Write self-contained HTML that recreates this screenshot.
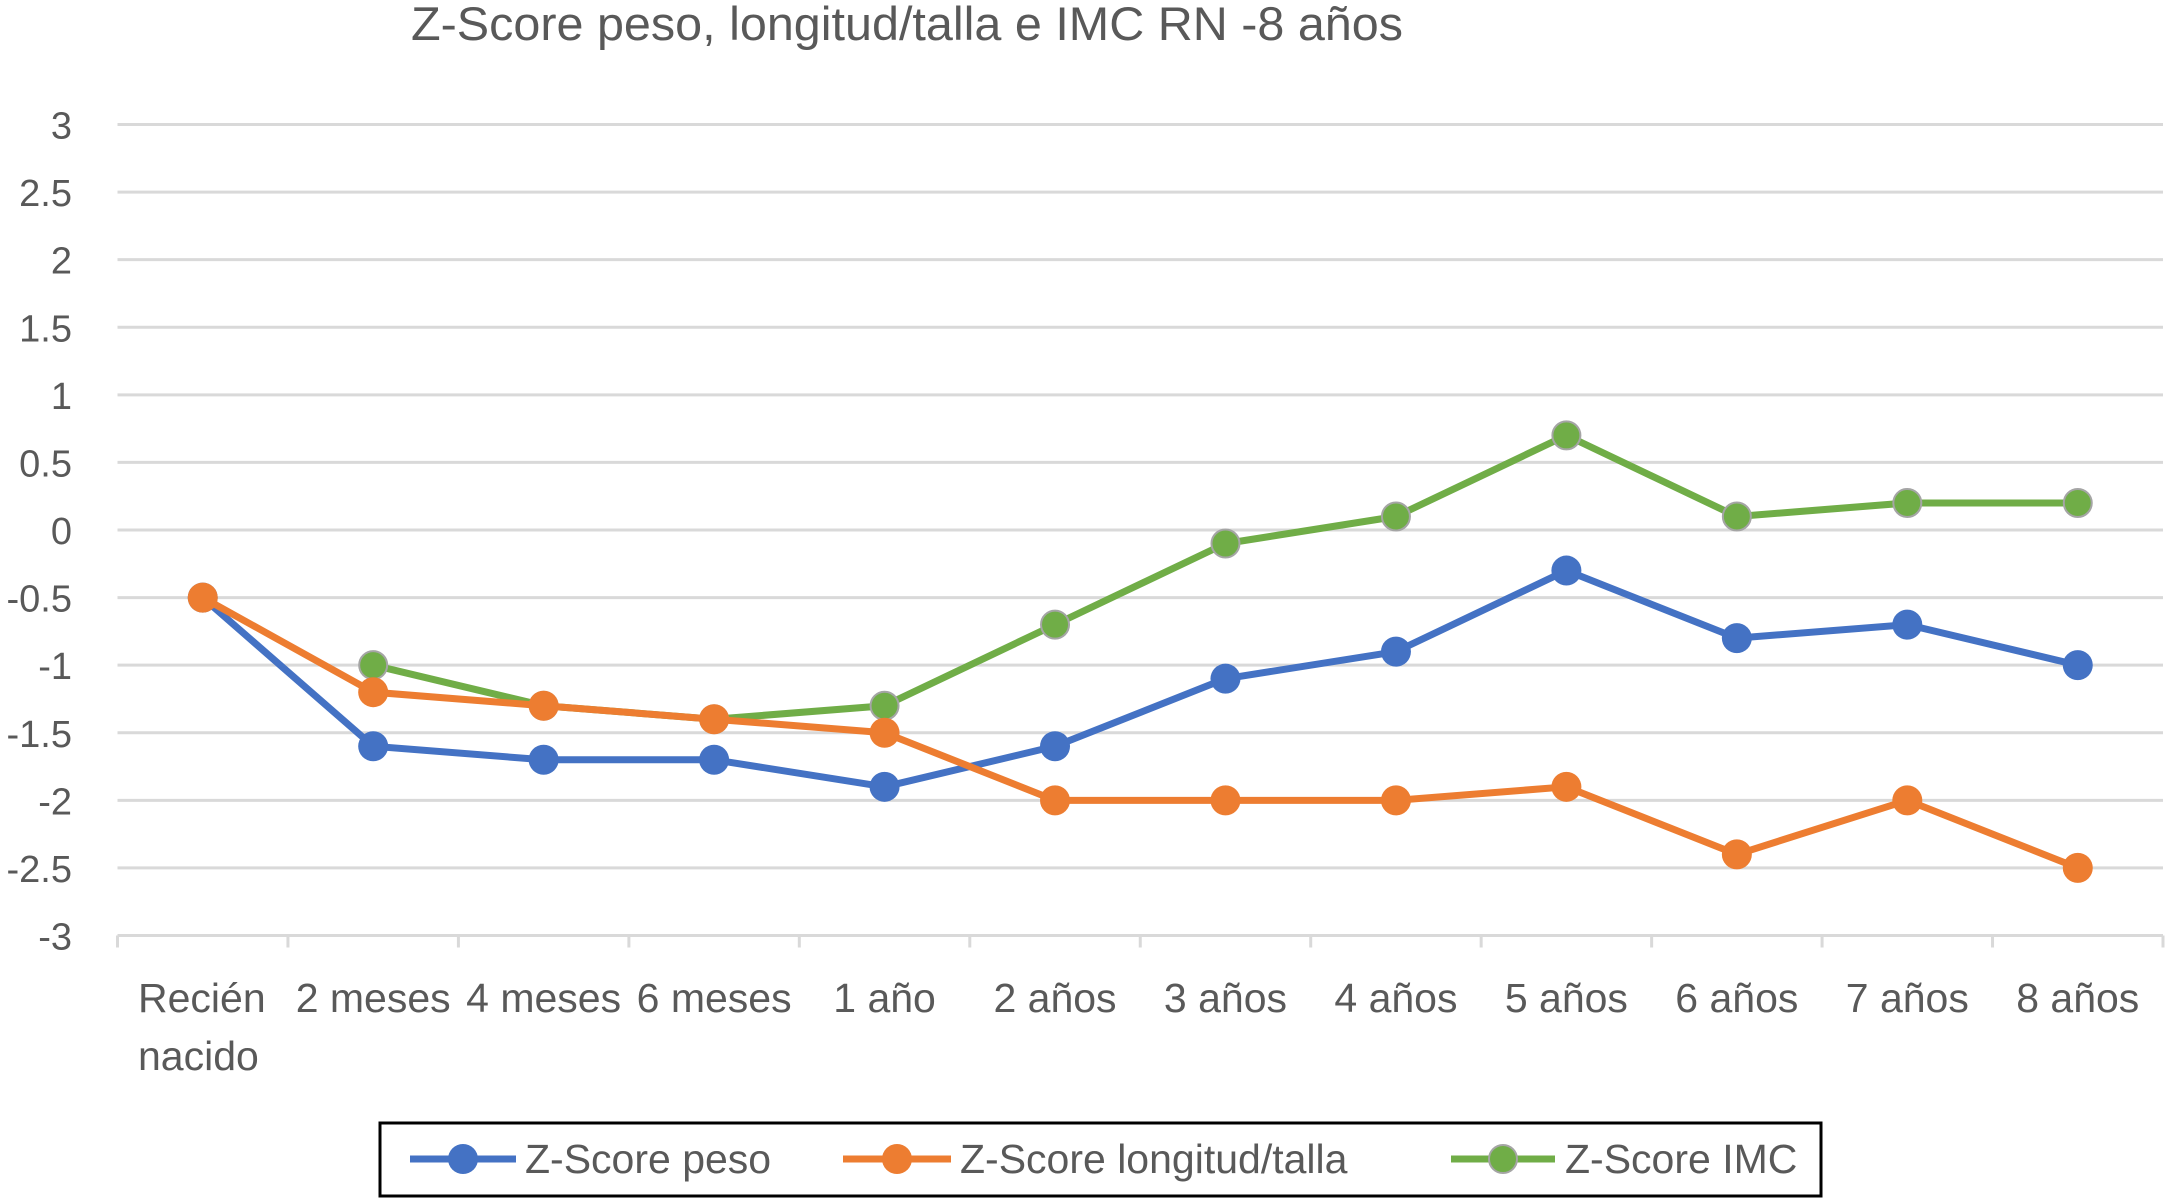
<!DOCTYPE html>
<html><head><meta charset="utf-8"><style>
html,body{margin:0;padding:0;background:#fff;}
svg{display:block;font-family:"Liberation Sans",sans-serif;}
</style></head><body>
<svg id="chart" width="2167" height="1201" viewBox="0 0 2167 1201" xmlns="http://www.w3.org/2000/svg">
<text x="907" y="40" text-anchor="middle" font-size="47" textLength="992" lengthAdjust="spacingAndGlyphs" fill="#595959">Z-Score peso, longitud/talla e IMC RN -8 años</text>
<g id="grid"></g><g id="axes"></g><g id="series"></g>
<g>
<rect x="380" y="1123" width="1441" height="73" fill="#fff" stroke="#000" stroke-width="3"/>
<g>
<line x1="410" y1="1159" x2="516" y2="1159" stroke="#4472C4" stroke-width="7"/><circle cx="463" cy="1159" r="15" fill="#4472C4"/>
<text x="525" y="1173" font-size="41" fill="#595959">Z-Score peso</text></g>
<g>
<line x1="843" y1="1159" x2="951" y2="1159" stroke="#ED7D31" stroke-width="7"/><circle cx="897" cy="1159" r="15" fill="#ED7D31"/>
<text x="960" y="1173" font-size="41" fill="#595959">Z-Score longitud/talla</text></g>
<g>
<line x1="1451" y1="1159" x2="1555" y2="1159" stroke="#70AD47" stroke-width="7"/><circle cx="1503" cy="1159" r="14" fill="#70AD47" stroke="#A5A5A5" stroke-width="2"/>
<text x="1565" y="1173" font-size="41" fill="#595959">Z-Score IMC</text></g>
</g>
</svg>
<script>
const categories = [["Recién","nacido"],["2 meses"],["4 meses"],["6 meses"],["1 año"],["2 años"],["3 años"],["4 años"],["5 años"],["6 años"],["7 años"],["8 años"]];
const yTicks = [3,2.5,2,1.5,1,0.5,0,-0.5,-1,-1.5,-2,-2.5,-3];
const peso = [-0.5,-1.6,-1.7,-1.7,-1.9,-1.6,-1.1,-0.9,-0.3,-0.8,-0.7,-1.0];
const talla = [-0.5,-1.2,-1.3,-1.4,-1.5,-2,-2,-2,-1.9,-2.4,-2,-2.5];
const imc = [null,-1.0,-1.3,-1.4,-1.3,-0.7,-0.1,0.1,0.7,0.1,0.2,0.2];
const NS="http://www.w3.org/2000/svg";
const x0=117.5,x1=2163,yTop=124.5,yBot=935.5,yMax=3,yMin=-3;
const step=(x1-x0)/categories.length;
function xs(i){return x0+step*(i+0.5);}
function ys(v){return yTop+(yMax-v)/(yMax-yMin)*(yBot-yTop);}
function mk(tag,attrs,parent){const e=document.createElementNS(NS,tag);for(const k in attrs)e.setAttribute(k,attrs[k]);parent.appendChild(e);return e;}
const grid=document.getElementById('grid'),axes=document.getElementById('axes'),ser=document.getElementById('series');
yTicks.forEach(v=>{
  const l=mk('line',{x1:x0,x2:x1,y1:ys(v),y2:ys(v),stroke:'#d9d9d9','stroke-width':3},grid);
  
  
  const t=mk('text',{x:72,y:ys(v)+14,'text-anchor':'end','font-size':38,fill:'#595959'},axes);
  t.textContent=String(v);
  
  
});
for(let i=0;i<=categories.length;i++){
  const tk=mk('line',{x1:x0+step*i,x2:x0+step*i,y1:yBot,y2:yBot+12,stroke:'#d9d9d9','stroke-width':3},axes);
  
  
}
categories.forEach((c,i)=>{
  const multi=c.length>1;
  c.forEach((line,j)=>{
    const t=mk('text',{x:multi?138:xs(i),y:1012+j*58,'text-anchor':multi?'start':'middle','font-size':41,fill:'#595959'},axes);
    t.textContent=line;
    
    
  });
});
function draw(data,color,name,stroke){
  let d='';let started=false;
  data.forEach((v,i)=>{if(v===null){started=false;return;}d+=(started?'L':'M')+xs(i)+','+ys(v);started=true;});
  const p=mk('path',{d:d,fill:'none',stroke:color,'stroke-width':7,'stroke-linejoin':'round'},ser);
  
  
  data.forEach((v,i)=>{if(v===null)return;
    const c=mk('circle',{cx:xs(i),cy:ys(v),r:15,fill:color},ser);
    if(stroke){c.setAttribute('stroke',stroke);c.setAttribute('stroke-width',2);c.setAttribute('r',14);}
    
    
  });
}
draw(peso,'#4472C4','peso');
draw(imc,'#70AD47','imc','#A5A5A5');
draw(talla,'#ED7D31','talla');
</script>
</body></html>
